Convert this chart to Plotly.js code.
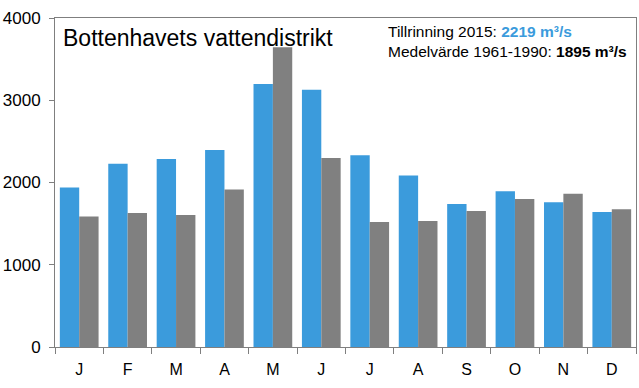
<!DOCTYPE html>
<html>
<head>
<meta charset="utf-8">
<script src="https://cdn.plot.ly/plotly-3.0.1.min.js"></script>
<style>html,body{margin:0;padding:0;background:#fff;}#chart{width:639px;height:388px;}</style>
</head>
<body>
<div id="chart"></div>
<script>
const months = ["J","F","M","A","M","J","J","A","S","O","N","D"];
const monthKeys = ["jan","feb","mar","apr","maj","jun","jul","aug","sep","okt","nov","dec"];
const inflow2015 = [1940, 2229, 2286, 2395, 3197, 3128, 2330, 2086, 1738, 1894, 1760, 1640];
const mean19611990 = [1588, 1629, 1605, 1916, 3643, 2298, 1520, 1532, 1653, 1800, 1862, 1676];
const yTicks = [0, 1000, 2000, 3000, 4000];

const font = "Liberation Sans, Arial, sans-serif";
const traces = [
  {type:"bar", x:monthKeys, y:inflow2015, name:"Tillrinning 2015", marker:{color:"#3b9bdc"}, hoverinfo:"y"},
  {type:"bar", x:monthKeys, y:mean19611990, name:"Medelvärde 1961-1990", marker:{color:"#808080"}, hoverinfo:"y"}
];
const layout = {
  width:639, height:388,
  margin:{l:55, r:3, t:18, b:41},
  paper_bgcolor:"#fff", plot_bgcolor:"#fff",
  showlegend:false,
  barmode:"group", bargap:0.2, bargroupgap:0,
  font:{family:font, color:"#000"},
  xaxis:{
    type:"category", tickvals:monthKeys, ticktext:months,
    showline:true, linecolor:"#7f7f7f", linewidth:1, mirror:true,
    ticks:"outside", tickson:"boundaries", ticklen:6, tickcolor:"#7f7f7f",
    ticklabelstandoff:8,
    tickfont:{size:16, family:font, color:"#000"}, showgrid:false, zeroline:false
  },
  yaxis:{
    range:[0,4000], tickvals:yTicks, ticktext:yTicks.map(String),
    showline:true, linecolor:"#7f7f7f", linewidth:1, mirror:true,
    ticks:"outside", ticklen:5, tickcolor:"#7f7f7f",
    ticklabelstandoff:5,
    tickfont:{size:17, family:font, color:"#000"}, showgrid:false, zeroline:false
  },
  annotations:[
    {xref:"paper", yref:"paper", x:0.01, y:0.985, xanchor:"left", yanchor:"top",
     text:"Bottenhavets vattendistrikt", showarrow:false, font:{size:23, family:font, color:"#000"}},
    {xref:"paper", yref:"paper", x:0.57, y:0.99, xanchor:"left", yanchor:"top", align:"left",
     text:"Tillrinning 2015: <b><span style='color:#3b9bdc'>2219 m³/s</span></b><br>Medelvärde 1961-1990: <b>1895 m³/s</b>",
     showarrow:false, font:{size:15.5, family:font, color:"#000"}}
  ]
};
Plotly.newPlot("chart", traces, layout, {displayModeBar:false, staticPlot:true});
</script>
</body>
</html>
